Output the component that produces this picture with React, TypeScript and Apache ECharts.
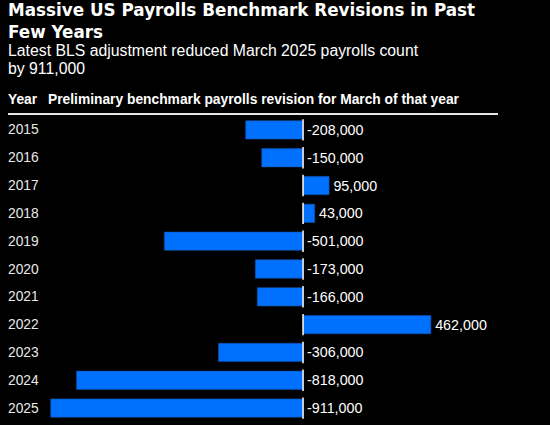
import React, { useEffect, useRef } from "react";
import * as echarts from "echarts";

const years = ["2015", "2016", "2017", "2018", "2019", "2020", "2021", "2022", "2023", "2024", "2025"];
const revisions = [-208000, -150000, 95000, 43000, -501000, -173000, -166000, 462000, -306000, -818000, -911000];
const titleLines = ["Massive US Payrolls Benchmark Revisions in Past", "Few Years"];
const subtitleLines = ["Latest BLS adjustment reduced March 2025 payrolls count", "by 911,000"];
const headerYear = "Year";
const headerValue = "Preliminary benchmark payrolls revision for March of that year";

const fmt = (v: number) => (v < 0 ? "-" : "") + Math.abs(v).toLocaleString("en-US");

export default function App() {
  const ref = useRef<HTMLDivElement>(null);
  useEffect(() => {
    document.body.style.margin = "0";
    document.body.style.background = "#000";
    const chart = echarts.init(ref.current!, null, { renderer: "svg" });
    chart.setOption({
      animation: false,
      backgroundColor: "#000000",
      grid: { left: 8, right: 52, top: 116, bottom: 3, containLabel: false },
      xAxis: {
        type: "value",
        min: -1064000,
        max: 703000,
        show: false,
        splitLine: { show: false },
      },
      yAxis: {
        type: "category",
        data: years,
        inverse: true,
        axisLine: { show: false },
        axisTick: { show: false },
        axisLabel: {
          inside: true,
          margin: 0,
          color: "#e8e8e8",
          fontFamily: "Liberation Sans",
          fontSize: 13.8,
        },
      },
      graphic: [
        {
          type: "text",
          left: 8,
          top: -1,
          style: {
            text: titleLines.join("\n"),
            fill: "#ffffff",
            font: "bold 16.8px 'DejaVu Sans'",
            lineHeight: 22,
          },
        },
        {
          type: "text",
          left: 8,
          top: 41,
          style: {
            text: subtitleLines.join("\n"),
            fill: "#ffffff",
            font: "15.8px 'Liberation Sans'",
            lineHeight: 18,
          },
        },
        {
          type: "text",
          left: 8,
          top: 92,
          style: { text: headerYear, fill: "#ffffff", font: "bold 13.8px 'Liberation Sans'" },
        },
        {
          type: "text",
          left: 48,
          top: 92,
          style: { text: headerValue, fill: "#ffffff", font: "bold 13.8px 'Liberation Sans'" },
        },
        {
          type: "rect",
          shape: { x: 8, y: 113, width: 490, height: 2 },
          style: { fill: "#e6e6e6" },
        },
      ],
      series: [
        {
          type: "bar",
          data: revisions,
          barWidth: "68%",
          itemStyle: { color: "#0070ff", borderColor: "#1450a8", borderWidth: 0.6 },
          label: {
            show: true,
            position: "right",
            distance: 4,
            color: "#ffffff",
            fontFamily: "Liberation Sans",
            fontSize: 14.3,
            formatter: (p: any) => fmt(p.value),
          },
        },
        {
          type: "custom",
          data: years.map((_, i) => [0, i]),
          encode: { x: 0, y: 1 },
          z: 5,
          renderItem: (params: any, api: any) => {
            const c = api.coord([0, api.value(1)]);
            const h = api.size([0, 1])[1] * 0.77;
            return {
              type: "line",
              shape: { x1: c[0], y1: c[1] - h / 2, x2: c[0], y2: c[1] + h / 2 },
              style: { stroke: "#ffffff", lineWidth: 1.5 },
            };
          },
        },
      ],
    });
    return () => chart.dispose();
  }, []);
  return <div ref={ref} style={{ width: 550, height: 425 }} />;
}
